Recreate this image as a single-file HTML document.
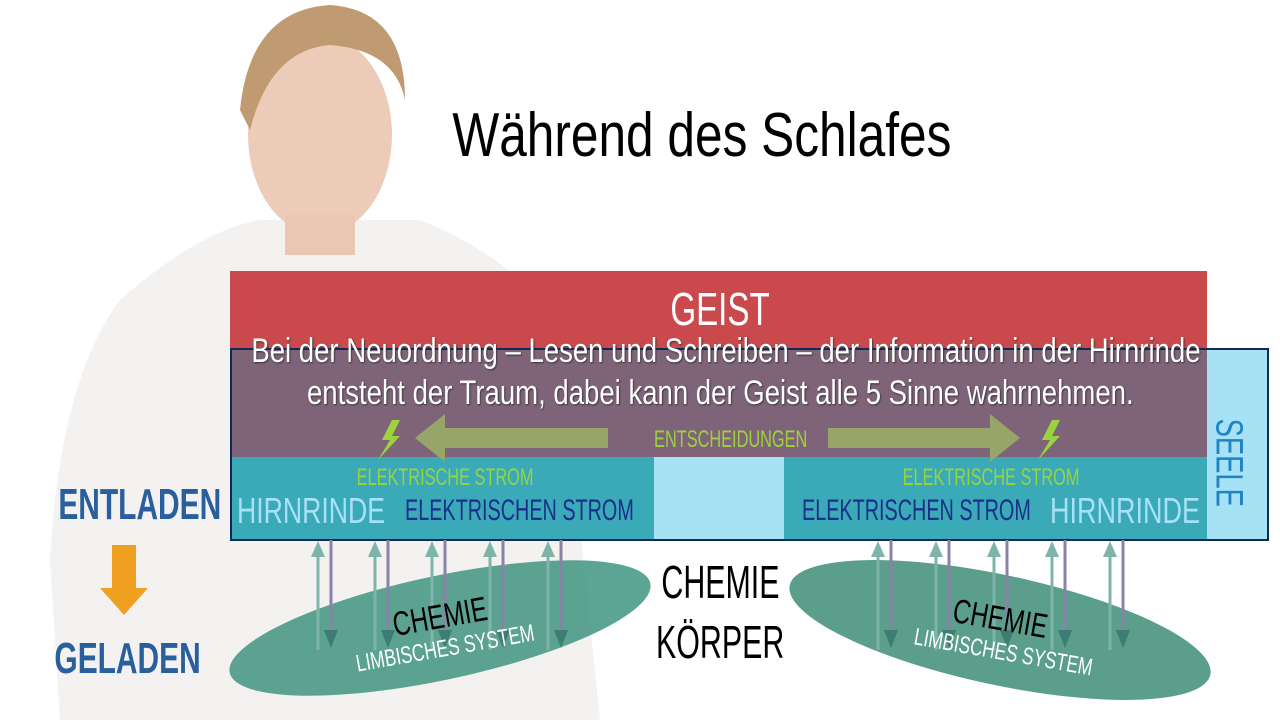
<!DOCTYPE html>
<html><head><meta charset="utf-8"><style>
body{margin:0;width:1280px;height:720px;overflow:hidden;background:#fff;font-family:"Liberation Sans",sans-serif;position:relative}
.a{position:absolute;white-space:nowrap}
.c{display:inline-block;transform:scaleX(0.72);transform-origin:center}
.l{display:inline-block;transform-origin:left}
</style></head><body>
<svg class="a" style="left:0;top:0" width="1280" height="720">
<path d="M120 300 Q200 230 260 220 L420 220 Q520 260 560 330 L600 720 L60 720 L50 560 Q60 380 120 300Z" fill="#f3f2f1"/>
<ellipse cx="320" cy="135" rx="72" ry="100" fill="#ecccb8"/>
<path d="M240 110 Q250 10 330 5 Q405 10 405 100 Q395 50 330 45 Q270 50 250 130Z" fill="#c09a70"/>
<rect x="285" y="215" width="70" height="40" fill="#e9c7b2"/>
<rect x="230" y="271" width="977" height="186" fill="#c9494c"/>
<rect x="231" y="349" width="1037" height="191" fill="#a7e1f5" stroke="#0f2a55" stroke-width="2"/>
<rect x="232" y="350" width="975" height="107" fill="#7f6479"/>
<rect x="232" y="457" width="422" height="82" fill="#3aa9b8"/>
<rect x="784" y="457" width="423" height="82" fill="#3aa9b8"/>
<path d="M608 428 L608 448 L445 448 L445 462 L415 438 L445 414 L445 428Z" fill="#98a569"/>
<path d="M828 428 L990 428 L990 414 L1020 438 L990 462 L990 448 L828 448Z" fill="#98a569"/>
<path d="M392 420 L382 440 L390 440 L378 460 L400 436 L392 436 L400 420Z" fill="#9bd33c"/>
<path d="M1052 420 L1042 440 L1050 440 L1038 460 L1060 436 L1052 436 L1060 420Z" fill="#9bd33c"/>
<ellipse cx="440" cy="628" rx="215" ry="52" transform="rotate(-12 440 628)" fill="#3f9480" opacity="0.85"/>
<ellipse cx="1000" cy="630" rx="215" ry="55" transform="rotate(12 1000 630)" fill="#3f8d78" opacity="0.85"/>
<g stroke-width="3">
<g id="L">
<line x1="318" y1="545" x2="318" y2="650" stroke="#7fb5a8"/><path d="M311 557 L318 541 L325 557Z" fill="#7fb5a8"/>
<line x1="331" y1="540" x2="331" y2="635" stroke="#8a82a8"/><path d="M324 630 L331 648 L338 630Z" fill="#3d7d72"/>
</g>
<use href="#L" x="57"/><use href="#L" x="114"/><use href="#L" x="172"/><use href="#L" x="230"/>
<use href="#L" x="560"/><use href="#L" x="618"/><use href="#L" x="676"/><use href="#L" x="734"/><use href="#L" x="792"/>
</g>
<path d="M112 545 L136 545 L136 588 L148 588 L124 615 L100 588 L112 588Z" fill="#f0a020"/>
</svg>
<div class="a" style="left:390px;top:100px;width:600px;text-align:center;font-size:62px"><span class="c" style="transform:scaleX(0.8)">Während des Schlafes</span></div>
<div class="a" style="left:620px;top:282px;width:200px;text-align:center;font-size:46px;color:#fff"><span class="c">GEIST</span></div>
<div class="a" style="left:140px;top:330px;width:1160px;text-align:center;font-size:34px;color:#fff;line-height:42px;text-shadow:1px 1px 2px #333"><span class="c" style="transform:scaleX(0.81)">Bei der Neuordnung – Lesen und Schreiben – der Information in der Hirnrinde</span><br><span class="c" style="transform:scaleX(0.81)">entsteht der Traum, dabei kann der Geist alle 5 Sinne wahrnehmen.</span></div>
<div class="a" style="left:618px;top:426px;width:200px;text-align:center;font-size:24px;color:#9bd33c"><span class="c" style="transform:scaleX(0.68)">ENTSCHEIDUNGEN</span></div>
<div class="a" style="left:1188px;top:420px;width:80px;text-align:center;font-size:38px;color:#1d84c6;transform:rotate(90deg)"><span class="c">SEELE</span></div>
<div class="a" style="left:300px;top:464px;width:290px;text-align:center;font-size:24px;color:#9bd33c"><span class="c" style="transform:scaleX(0.68)">ELEKTRISCHE STROM</span></div>
<div class="a" style="left:846px;top:464px;width:290px;text-align:center;font-size:24px;color:#9bd33c"><span class="c" style="transform:scaleX(0.68)">ELEKTRISCHE STROM</span></div>
<div class="a" style="left:237px;top:490px;font-size:36px;color:#a7e1f5"><span class="l" style="transform:scaleX(0.74)">HIRNRINDE</span></div>
<div class="a" style="left:1050px;top:490px;font-size:36px;color:#a7e1f5"><span class="l" style="transform:scaleX(0.75)">HIRNRINDE</span></div>
<div class="a" style="left:405px;top:494px;font-size:30px;color:#1a2f8a"><span class="l" style="transform:scaleX(0.66)">ELEKTRISCHEN STROM</span></div>
<div class="a" style="left:802px;top:494px;font-size:30px;color:#1a2f8a"><span class="l" style="transform:scaleX(0.66)">ELEKTRISCHEN STROM</span></div>
<div class="a" style="left:20px;top:480px;width:210px;text-align:center;font-size:44px;color:#2a5f9e;font-weight:bold"><span class="c" style="transform:scaleX(0.68)">ENTLADEN</span></div>
<div class="a" style="left:20px;top:634px;width:210px;text-align:center;font-size:44px;color:#2a5f9e;font-weight:bold"><span class="c" style="transform:scaleX(0.68)">GELADEN</span></div>
<div class="a" style="left:620px;top:552px;width:200px;text-align:center;font-size:46px;line-height:60px"><span class="c" style="transform:scaleX(0.66)">CHEMIE</span><br><span class="c" style="transform:scaleX(0.66)">KÖRPER</span></div>
<div class="a" style="left:340px;top:598px;width:200px;text-align:center;font-size:34px;transform:rotate(-10deg)"><span class="c">CHEMIE</span></div>
<div class="a" style="left:320px;top:636px;width:240px;text-align:center;font-size:24px;color:#fff;transform:rotate(-10deg)"><span class="c">LIMBISCHES SYSTEM</span></div>
<div class="a" style="left:900px;top:600px;width:200px;text-align:center;font-size:34px;transform:rotate(10deg)"><span class="c">CHEMIE</span></div>
<div class="a" style="left:878px;top:638px;width:240px;text-align:center;font-size:24px;color:#fff;transform:rotate(10deg)"><span class="c">LIMBISCHES SYSTEM</span></div>
</body></html>
